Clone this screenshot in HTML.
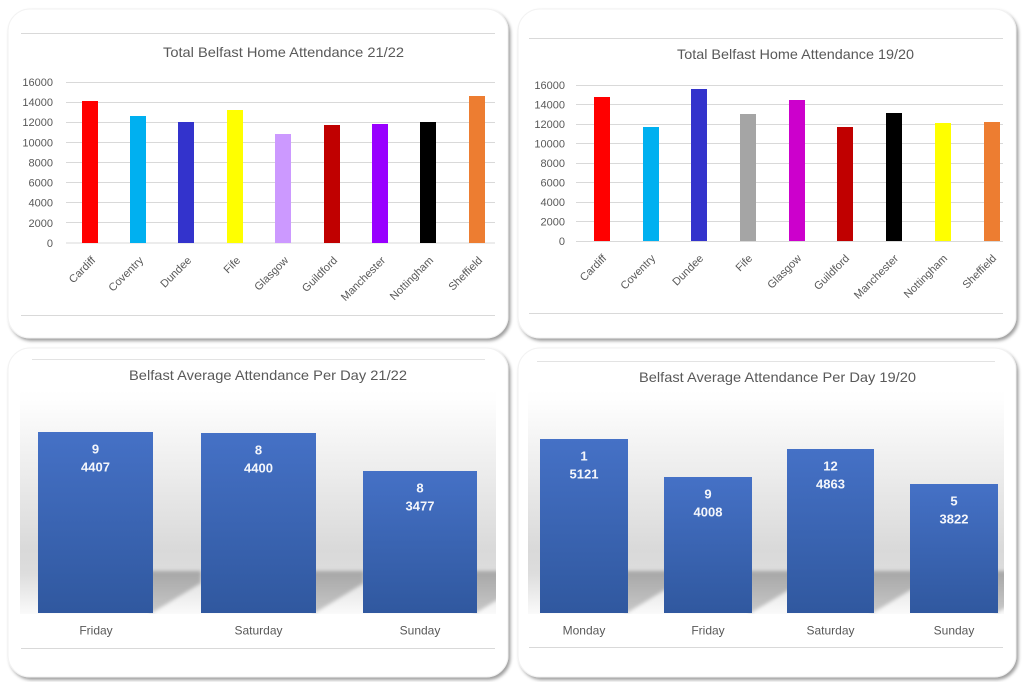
<!DOCTYPE html>
<html><head><meta charset="utf-8"><style>
html,body{margin:0;padding:0;background:#fff;width:1024px;height:682px;overflow:hidden;}
svg{display:block;}
text{font-family:"Liberation Sans",Arial,sans-serif;}
</style></head><body>
<svg width="1024" height="682" viewBox="0 0 1024 682" xmlns="http://www.w3.org/2000/svg">
<defs>
<filter id="ps" x="-5%" y="-5%" width="112%" height="112%">
<feDropShadow dx="2" dy="2.5" stdDeviation="1.6" flood-color="#000" flood-opacity="0.38"/>
</filter>
<linearGradient id="bg" x1="0" y1="0" x2="0" y2="1">
<stop offset="0" stop-color="#ffffff"/>
<stop offset="0.06" stop-color="#fdfdfd"/>
<stop offset="0.72" stop-color="#d9d9d9"/>
<stop offset="0.82" stop-color="#dddddd"/>
<stop offset="1" stop-color="#fafafa"/>
</linearGradient>
<linearGradient id="bar" x1="0" y1="0" x2="0" y2="1">
<stop offset="0" stop-color="#4571c6"/>
<stop offset="1" stop-color="#30589f"/>
</linearGradient>
<linearGradient id="sh" x1="0" y1="0" x2="0" y2="1">
<stop offset="0" stop-color="#a6a6a6"/>
<stop offset="1" stop-color="#c9c9c9"/>
</linearGradient>
<filter id="blur" x="-20%" y="-20%" width="140%" height="140%"><feGaussianBlur stdDeviation="1.8"/></filter>
<clipPath id="clipL"><rect x="20" y="390" width="476" height="224"/></clipPath>
<clipPath id="clipR"><rect x="528" y="390" width="476" height="224"/></clipPath>
</defs>

<!-- Panels -->
<rect x="8" y="9" width="500" height="329" rx="22" fill="#fff" stroke="#f2f2f2" stroke-width="1" filter="url(#ps)"/>
<rect x="518" y="9" width="498" height="329" rx="22" fill="#fff" stroke="#f2f2f2" stroke-width="1" filter="url(#ps)"/>
<rect x="8" y="348" width="500" height="329" rx="22" fill="#fff" stroke="#f2f2f2" stroke-width="1" filter="url(#ps)"/>
<rect x="518" y="348" width="498" height="329" rx="22" fill="#fff" stroke="#f2f2f2" stroke-width="1" filter="url(#ps)"/>

<!-- ============ TOP LEFT ============ -->
<line x1="21" y1="33.5" x2="495" y2="33.5" stroke="#d9d9d9" stroke-width="1"/>
<line x1="21" y1="315.5" x2="495" y2="315.5" stroke="#d9d9d9" stroke-width="1"/>
<text x="283.5" y="57" font-size="14" fill="#595959" text-anchor="middle" textLength="241" lengthAdjust="spacingAndGlyphs">Total Belfast Home Attendance 21/22</text>
<g stroke="#d9d9d9" stroke-width="1">
<line x1="66" y1="82.5" x2="495" y2="82.5"/>
<line x1="66" y1="102.5" x2="495" y2="102.5"/>
<line x1="66" y1="122.5" x2="495" y2="122.5"/>
<line x1="66" y1="142.5" x2="495" y2="142.5"/>
<line x1="66" y1="162.5" x2="495" y2="162.5"/>
<line x1="66" y1="182.5" x2="495" y2="182.5"/>
<line x1="66" y1="202.5" x2="495" y2="202.5"/>
<line x1="66" y1="222.5" x2="495" y2="222.5"/>
<line x1="66" y1="243" x2="495" y2="243"/>
</g>
<g font-size="11" fill="#595959" text-anchor="end">
<text x="53" y="86">16000</text>
<text x="53" y="106">14000</text>
<text x="53" y="126">12000</text>
<text x="53" y="146.5">10000</text>
<text x="53" y="166.5">8000</text>
<text x="53" y="186.5">6000</text>
<text x="53" y="206.5">4000</text>
<text x="53" y="227">2000</text>
<text x="53" y="247">0</text>
</g>
<rect x="82" y="101" width="16" height="142" fill="#ff0000"/>
<rect x="130" y="116" width="16" height="127" fill="#00b0f0"/>
<rect x="178" y="122" width="16" height="121" fill="#3333cc"/>
<rect x="227" y="110" width="16" height="133" fill="#ffff00"/>
<rect x="275" y="134" width="16" height="109" fill="#cc99ff"/>
<rect x="324" y="125" width="16" height="118" fill="#c00000"/>
<rect x="372" y="124" width="16" height="119" fill="#9900ff"/>
<rect x="420" y="122" width="16" height="121" fill="#000000"/>
<rect x="469" y="96" width="16" height="147" fill="#ed7d31"/>
<g font-size="11" fill="#595959" text-anchor="end">
<text transform="translate(96,261) rotate(-45)">Cardiff</text>
<text transform="translate(144,261) rotate(-45)">Coventry</text>
<text transform="translate(192,261) rotate(-45)">Dundee</text>
<text transform="translate(241,261) rotate(-45)">Fife</text>
<text transform="translate(289,261) rotate(-45)">Glasgow</text>
<text transform="translate(338,261) rotate(-45)">Guildford</text>
<text transform="translate(386,261) rotate(-45)">Manchester</text>
<text transform="translate(434,261) rotate(-45)">Nottingham</text>
<text transform="translate(483,261) rotate(-45)">Sheffield</text>
</g>

<!-- ============ TOP RIGHT ============ -->
<line x1="529" y1="38.5" x2="1003" y2="38.5" stroke="#d9d9d9" stroke-width="1"/>
<line x1="529" y1="313.5" x2="1003" y2="313.5" stroke="#d9d9d9" stroke-width="1"/>
<text x="795.5" y="59" font-size="14" fill="#595959" text-anchor="middle" textLength="237" lengthAdjust="spacingAndGlyphs">Total Belfast Home Attendance 19/20</text>
<g stroke="#d9d9d9" stroke-width="1">
<line x1="576" y1="85.5" x2="1003" y2="85.5"/>
<line x1="576" y1="104.5" x2="1003" y2="104.5"/>
<line x1="576" y1="124.5" x2="1003" y2="124.5"/>
<line x1="576" y1="143.5" x2="1003" y2="143.5"/>
<line x1="576" y1="163.5" x2="1003" y2="163.5"/>
<line x1="576" y1="182.5" x2="1003" y2="182.5"/>
<line x1="576" y1="202.5" x2="1003" y2="202.5"/>
<line x1="576" y1="221.5" x2="1003" y2="221.5"/>
<line x1="576" y1="241.5" x2="1003" y2="241.5"/>
</g>
<g font-size="11" fill="#595959" text-anchor="end">
<text x="565" y="89">16000</text>
<text x="565" y="108.5">14000</text>
<text x="565" y="128">12000</text>
<text x="565" y="147.5">10000</text>
<text x="565" y="167">8000</text>
<text x="565" y="186.5">6000</text>
<text x="565" y="206">4000</text>
<text x="565" y="225.5">2000</text>
<text x="565" y="245">0</text>
</g>
<rect x="594" y="97" width="16" height="144" fill="#ff0000"/>
<rect x="643" y="127" width="16" height="114" fill="#00b0f0"/>
<rect x="691" y="89" width="16" height="152" fill="#3333cc"/>
<rect x="740" y="114" width="16" height="127" fill="#a5a5a5"/>
<rect x="789" y="100" width="16" height="141" fill="#cc00cc"/>
<rect x="837" y="127" width="16" height="114" fill="#c00000"/>
<rect x="886" y="113" width="16" height="128" fill="#000000"/>
<rect x="935" y="123" width="16" height="118" fill="#ffff00"/>
<rect x="984" y="122" width="16" height="119" fill="#ed7d31"/>
<g font-size="11" fill="#595959" text-anchor="end">
<text transform="translate(607,259) rotate(-45)">Cardiff</text>
<text transform="translate(656,259) rotate(-45)">Coventry</text>
<text transform="translate(704,259) rotate(-45)">Dundee</text>
<text transform="translate(753,259) rotate(-45)">Fife</text>
<text transform="translate(802,259) rotate(-45)">Glasgow</text>
<text transform="translate(850,259) rotate(-45)">Guildford</text>
<text transform="translate(899,259) rotate(-45)">Manchester</text>
<text transform="translate(948,259) rotate(-45)">Nottingham</text>
<text transform="translate(997,259) rotate(-45)">Sheffield</text>
</g>

<!-- ============ BOTTOM LEFT ============ -->
<line x1="32" y1="359.5" x2="485" y2="359.5" stroke="#e3e3e3" stroke-width="1"/>
<line x1="21" y1="648.5" x2="495" y2="648.5" stroke="#d9d9d9" stroke-width="1"/>
<text x="268" y="380" font-size="14" fill="#595959" text-anchor="middle" textLength="278" lengthAdjust="spacingAndGlyphs">Belfast Average Attendance Per Day 21/22</text>
<rect x="20" y="390" width="476" height="224" fill="url(#bg)"/>
<g clip-path="url(#clipL)" filter="url(#blur)" fill="url(#sh)">
<polygon points="150,571 201,571 201,583 150,614"/>
<polygon points="313,571 364,571 364,583 313,614"/>
<polygon points="474,571 525,571 525,583 474,614"/>
</g>
<rect x="38" y="432" width="115" height="181" fill="url(#bar)"/>
<rect x="201" y="433" width="115" height="180" fill="url(#bar)"/>
<rect x="363" y="471" width="114" height="142" fill="url(#bar)"/>
<g font-size="13" font-weight="bold" fill="#f4f6fb" text-anchor="middle">
<text x="95.5" y="453.5">9</text>
<text x="95.5" y="471.5">4407</text>
<text x="258.5" y="454.5">8</text>
<text x="258.5" y="472.5">4400</text>
<text x="420" y="492.5">8</text>
<text x="420" y="510.5">3477</text>
</g>
<g font-size="12" fill="#595959" text-anchor="middle">
<text x="96" y="634.5">Friday</text>
<text x="258.5" y="634.5">Saturday</text>
<text x="420" y="634.5">Sunday</text>
</g>

<!-- ============ BOTTOM RIGHT ============ -->
<line x1="537" y1="361.5" x2="995" y2="361.5" stroke="#e3e3e3" stroke-width="1"/>
<line x1="529" y1="647.5" x2="1003" y2="647.5" stroke="#d9d9d9" stroke-width="1"/>
<text x="777.5" y="382" font-size="14" fill="#595959" text-anchor="middle" textLength="277" lengthAdjust="spacingAndGlyphs">Belfast Average Attendance Per Day 19/20</text>
<rect x="528" y="390" width="476" height="224" fill="url(#bg)"/>
<g clip-path="url(#clipR)" filter="url(#blur)" fill="url(#sh)">
<polygon points="625,571 676,571 676,583 625,614"/>
<polygon points="749,571 800,571 800,583 749,614"/>
<polygon points="871,571 922,571 922,583 871,614"/>
<polygon points="995,571 1046,571 1046,583 995,614"/>
</g>
<rect x="540" y="439" width="88" height="174" fill="url(#bar)"/>
<rect x="664" y="477" width="88" height="136" fill="url(#bar)"/>
<rect x="787" y="449" width="87" height="164" fill="url(#bar)"/>
<rect x="910" y="484" width="88" height="129" fill="url(#bar)"/>
<g font-size="13" font-weight="bold" fill="#f4f6fb" text-anchor="middle">
<text x="584" y="460.5">1</text>
<text x="584" y="478.5">5121</text>
<text x="708" y="498.5">9</text>
<text x="708" y="516.5">4008</text>
<text x="830.5" y="470.5">12</text>
<text x="830.5" y="488.5">4863</text>
<text x="954" y="505.5">5</text>
<text x="954" y="523.5">3822</text>
</g>
<g font-size="12" fill="#595959" text-anchor="middle">
<text x="584" y="634.5">Monday</text>
<text x="708" y="634.5">Friday</text>
<text x="830.5" y="634.5">Saturday</text>
<text x="954" y="634.5">Sunday</text>
</g>
</svg>
</body></html>
